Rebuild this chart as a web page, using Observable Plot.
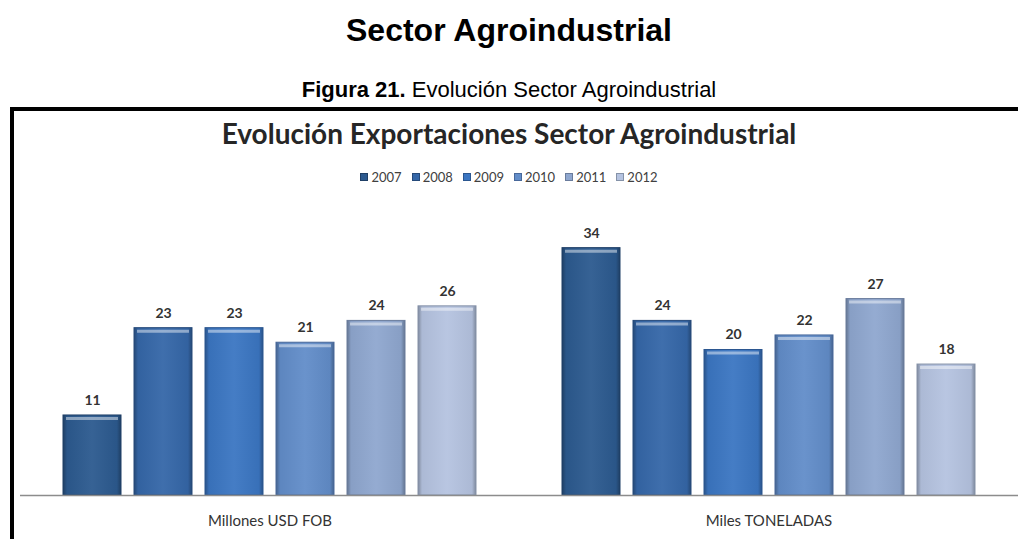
<!DOCTYPE html>
<html>
<head>
<meta charset="utf-8">
<script src="https://cdn.jsdelivr.net/npm/d3@7"></script>
<script src="https://cdn.jsdelivr.net/npm/@observablehq/plot@0.6"></script>
<style>
  html, body { margin: 0; padding: 0; background: #fff; }
  body { width: 1018px; height: 539px; position: relative; overflow: hidden; font-family: "Liberation Sans", Arial, sans-serif; }
  .abs { position: absolute; left: 0; width: 1018px; text-align: center; white-space: nowrap; }
  #pageTitle { top: 10px; font-weight: bold; font-size: 32px; color: #000; line-height: 40px; }
  #figCap { top: 77px; font-size: 22px; color: #000; line-height: 26px; }
  #box { position: absolute; left: 10px; top: 107px; width: 1020px; height: 460px; border-left: 4px solid #000; border-top: 4px solid #000; }
  #chartTitle { top: 115px; font-family: Lato, "Open Sans", sans-serif; font-weight: bold; font-size: 28px; color: #262626; line-height: 36px; }
  #legend { top: 169px; font-family: Lato, "Open Sans", sans-serif; font-size: 13px; color: #404040; display: flex; justify-content: center; gap: 10px; }
  #legend span.item { display: inline-flex; align-items: center; gap: 3px; }
  #legend span.sw { display: inline-block; width: 8px; height: 8px; }
  #chart { position: absolute; left: 0; top: 190px; }
</style>
</head>
<body>
<div id="pageTitle" class="abs">Sector Agroindustrial</div>
<div id="figCap" class="abs"><b>Figura 21.</b> Evolución Sector Agroindustrial</div>
<div id="box"></div>
<div id="chartTitle" class="abs">Evolución Exportaciones Sector Agroindustrial</div>
<div id="legend" class="abs"></div>
<div id="chart"></div>
<script>
const groups = ["Millones USD FOB", "Miles TONELADAS"];
const years = ["2007", "2008", "2009", "2010", "2011", "2012"];
const usdValues = [11, 23, 23, 21, 24, 26];
const tonValues = [34, 24, 20, 22, 27, 18];
const yearColors = ["#2c5a8f", "#3567a8", "#3b76c2", "#628dc9", "#8fa7cf", "#b5c3e0"];
const yearStrokes = ["#1f3f66", "#264a7a", "#2b5690", "#48689a", "#6a7c9c", "#8592a8"];

const data = [];
years.forEach((yr, i) => data.push({group: groups[0], year: yr, value: usdValues[i]}));
years.forEach((yr, i) => data.push({group: groups[1], year: yr, value: tonValues[i]}));

// legend
const legend = document.getElementById("legend");
years.forEach((yr, i) => {
  const it = document.createElement("span");
  it.className = "item";
  const sw = document.createElement("span");
  sw.className = "sw";
  sw.style.background = yearColors[i];
  sw.style.border = "1px solid " + yearStrokes[i];
  sw.style.boxSizing = "border-box";
  it.appendChild(sw);
  const t = document.createElement("span");
  t.textContent = yr;
  it.appendChild(t);
  legend.appendChild(it);
});

const strokeOf = Object.fromEntries(years.map((y, i) => [y, yearStrokes[i]]));

const chart = Plot.plot({
  width: 1018,
  height: 349,
  marginLeft: 20,
  marginRight: 0,
  marginTop: 14,
  marginBottom: 44,
  style: {fontFamily: "Lato, 'Open Sans', sans-serif", background: "transparent"},
  fx: {domain: groups, padding: 0, label: null},
  x: {domain: years, paddingInner: 0.19, paddingOuter: 0.585, axis: null},
  y: {domain: [0, 40], axis: null},
  color: {domain: years, range: yearColors},
  marks: [
    Plot.barY(data, {fx: "group", x: "year", y: "value", fill: "year"}),
    Plot.barY(data, {fx: "group", x: "year", y: "value", fill: "url(#sideShade)", stroke: d => strokeOf[d.year], strokeWidth: 1}),
    Plot.tickY(data, {fx: "group", x: "year", y: "value", stroke: "#ffffff", strokeOpacity: 0.45, strokeWidth: 3, dy: 3, inset: 3}),
    Plot.ruleY([0], {stroke: "#8c8c8c", strokeWidth: 1.5}),
    Plot.text(data, {fx: "group", x: "year", y: "value", text: d => String(d.value), dy: -15, fontSize: 14, fontWeight: "bold", fill: "#333"}),
    Plot.axisFx({anchor: "bottom", tickSize: 0, tickPadding: 20, fontSize: 15, label: null, color: "#333"})
  ]
});

// gradient definition used by the shading overlay
const svgSel = d3.select(chart.tagName.toLowerCase() === "svg" ? chart : chart.querySelector("svg"));
const defs = svgSel.insert("defs", ":first-child");
const g = defs.append("linearGradient").attr("id", "sideShade").attr("x1", "0").attr("x2", "1").attr("y1", "0").attr("y2", "0");
g.append("stop").attr("offset", "0").attr("stop-color", "#000").attr("stop-opacity", 0.3);
g.append("stop").attr("offset", "0.07").attr("stop-color", "#000").attr("stop-opacity", 0.05);
g.append("stop").attr("offset", "0.5").attr("stop-color", "#fff").attr("stop-opacity", 0.05);
g.append("stop").attr("offset", "0.93").attr("stop-color", "#000").attr("stop-opacity", 0.05);
g.append("stop").attr("offset", "1").attr("stop-color", "#000").attr("stop-opacity", 0.3);

document.getElementById("chart").appendChild(chart);
</script>
</body>
</html>
